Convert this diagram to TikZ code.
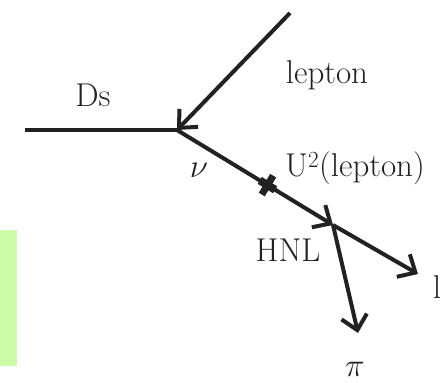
\documentclass[tikz,border=0pt]{standalone}
\usetikzlibrary{arrows.meta,calc}
\definecolor{linegray}{RGB}{34,34,34}
\definecolor{boxgreen}{RGB}{204,252,170}
\tikzset{
  leg/.style={draw=linegray,line width=4pt},
  legarrow/.style={leg,-{Straight Barb[length=14pt,width=26pt,line width=4pt]}},
  lbl/.style={text=linegray,inner sep=0pt,font=\fontsize{33}{40}\selectfont},
  mathlbl/.style={text=linegray,inner sep=0pt,font=\Huge,scale=1.33}
}
\begin{document}
\begin{tikzpicture}[x=1pt,y=-1pt]
\useasboundingbox (0,0) rectangle (446,382);
\fill[boxgreen] (0,230) rectangle (17,366);

   \coordinate (dsin) at (25,130);
   \coordinate (vtx) at (177,130);
   \coordinate (lepin) at (290,13);
   \coordinate (hnl) at (333,225);
   \coordinate (lout) at (418,274);
   \coordinate (piout) at (358,333);
   \coordinate (mix) at ($(vtx)!0.58!(hnl)$);

   \node[lbl] at (93,95)  (Ds) {Ds};
   \node[lbl] at (327,75) (lep) {lepton};
   \node[mathlbl] at (199,170) (nu) {$\nu$};
   \node[lbl] at (355,168) (U2) {U\textsuperscript{2}(lepton)};
   \node[lbl] at (288,250) (HNL) {HNL};
   \node[lbl] at (437,287) (l) {l};
   \node[mathlbl] at (355,369) (pi) {$\pi$};

    \draw[leg] (dsin) -- (vtx);
    \draw[legarrow] (lepin) -- (vtx);
     \draw[legarrow] (vtx) -- (hnl);
     \draw[legarrow] (hnl) -- (lout);
     \draw[legarrow] (hnl) -- (piout);

   % mixing mark
   \draw[linegray,line width=7pt] ($(mix)!11pt!90:(hnl)$) -- ($(mix)!11pt!-90:(hnl)$);
   \draw[linegray,line width=8pt] ($(mix)!9pt!(hnl)$) -- ($(mix)!-9pt!(hnl)$);

    \end{tikzpicture}
\end{document}
